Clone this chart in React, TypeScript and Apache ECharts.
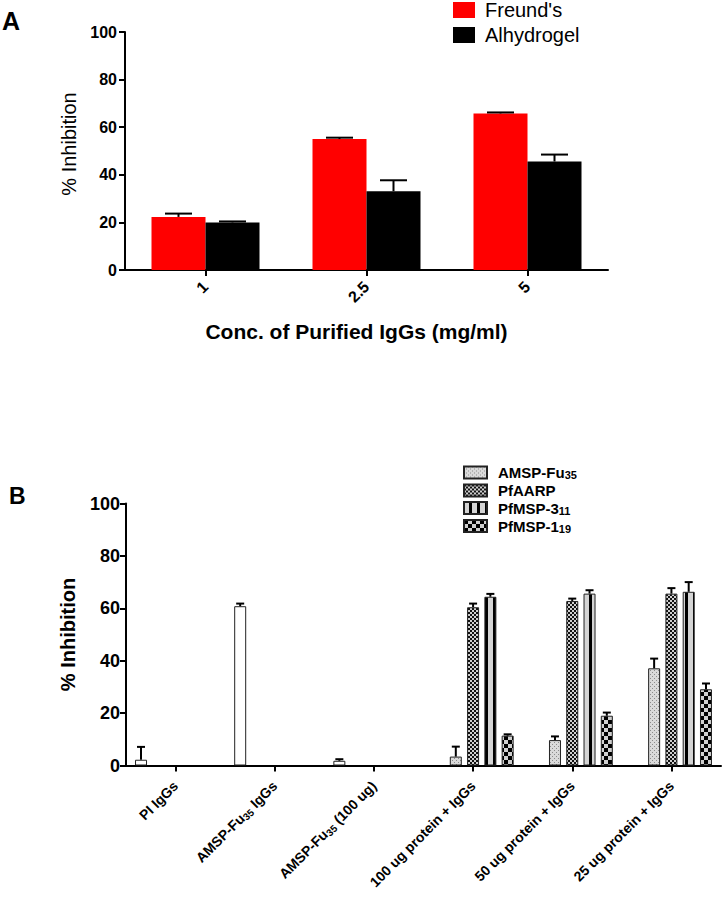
import React, { useEffect, useRef } from 'react';
import * as echarts from 'echarts';

// ---------- Panel A data ----------
const catsA = ['1', '2.5', '5'];
const freund = [22.3, 55.0, 65.8];
const freundErr = [1.4, 0.6, 0.4];
const alhydrogel = [20.0, 33.1, 45.6];
const alhydrogelErr = [0.4, 4.6, 2.9];

// ---------- Panel B data ----------
const catsB = [
  'PI IgGs',
  'AMSP-Fu35 IgGs',
  'AMSP-Fu35 (100 ug)',
  '100 ug protein + IgGs',
  '50 ug protein + IgGs',
  '25 ug protein + IgGs',
];
const controlB = [2.2, 60.8, 1.8, null, null, null];
const controlErr = [4.9, 1.0, 0.6, null, null, null];
const amspB = [null, null, null, 3.4, 9.7, 37.1];
const amspErr = [null, null, null, 3.8, 1.4, 3.7];
const aarpB = [null, null, null, 60.4, 62.8, 65.6];
const aarpErr = [null, null, null, 1.4, 0.9, 2.1];
const msp3B = [null, null, null, 64.4, 65.6, 66.3];
const msp3Err = [null, null, null, 1.1, 1.3, 3.7];
const msp1B = [null, null, null, 11.4, 19.0, 29.1];
const msp1Err = [null, null, null, 0.5, 1.2, 2.2];
const legendB = ['AMSP-Fu35', 'PfAARP', 'PfMSP-311', 'PfMSP-119'];

const FONT = '"Liberation Sans", Arial, sans-serif';

function makePattern(w: number, h: number, draw: (ctx: CanvasRenderingContext2D) => void) {
  const c = document.createElement('canvas');
  c.width = w;
  c.height = h;
  const ctx = c.getContext('2d')!;
  draw(ctx);
  return { image: c.toDataURL(), repeat: 'repeat', imageWidth: w, imageHeight: h } as any;
}

function toRich(s: string, t = 't', sub = 's') {
  const m = s.match(/^(.*?(?:Fu|MSP-\d))(\d\d)(.*)$/);
  if (!m) return `{${t}|${s}}`;
  let out = `{${t}|${m[1]}}{${sub}|${m[2]}}`;
  if (m[3]) out += `{${t}|${m[3]}}`;
  return out;
}

function errData(vals: (number | null)[], errs: (number | null)[]) {
  const out: number[][] = [];
  vals.forEach((v, i) => {
    if (v != null && errs[i] != null) out.push([i, v, errs[i] as number]);
  });
  return out;
}

function errRender(offset: number, cap: number) {
  return (_p: any, api: any) => {
    const x = api.value(0);
    const v = api.value(1);
    const e = api.value(2);
    const base = api.coord([x, v]);
    const top = api.coord([x, v + e]);
    const cx = base[0] + offset;
    return {
      type: 'group',
      children: [
        { type: 'line', shape: { x1: cx, y1: base[1], x2: cx, y2: top[1] }, style: { stroke: '#000', lineWidth: 2 } },
        { type: 'line', shape: { x1: cx - cap / 2, y1: top[1], x2: cx + cap / 2, y2: top[1] }, style: { stroke: '#000', lineWidth: 2 } },
      ],
    };
  };
}

export default function App() {
  const ref = useRef<HTMLDivElement>(null);
  useEffect(() => {
    if (!ref.current) return;
    const chart = echarts.init(ref.current, undefined, { renderer: 'svg' });

    const dotPat = makePattern(4, 4, (ctx) => {
      ctx.fillStyle = '#dadada';
      ctx.fillRect(0, 0, 4, 4);
      ctx.fillStyle = '#8c8c8c';
      ctx.fillRect(0, 0, 1, 1);
      ctx.fillRect(2, 2, 1, 1);
    });
    const fineCheck = makePattern(4, 4, (ctx) => {
      ctx.fillStyle = '#d0d0d0';
      ctx.fillRect(0, 0, 4, 4);
      ctx.fillStyle = '#111';
      ctx.fillRect(0, 0, 2, 2);
      ctx.fillRect(2, 2, 2, 2);
    });
    const stripes = makePattern(8, 4, (ctx) => {
      ctx.fillStyle = '#d4d4d4';
      ctx.fillRect(0, 0, 8, 4);
      ctx.fillStyle = '#000';
      ctx.fillRect(5, 0, 3, 4);
    });
    const bigCheck = makePattern(8, 8, (ctx) => {
      ctx.fillStyle = '#cfcfcf';
      ctx.fillRect(0, 0, 8, 8);
      ctx.fillStyle = '#000';
      ctx.fillRect(0, 0, 4, 4);
      ctx.fillRect(4, 4, 4, 4);
    });

    const axisLine = { show: true, lineStyle: { color: '#000', width: 2 } };
    const axisTick = { show: true, lineStyle: { color: '#000', width: 2 }, length: 6, inside: false };

    const bw = 12;
    const gapRatio = 0.44;
    const step = bw * (1 + gapRatio);
    const total = 5 * bw + 4 * bw * gapRatio;
    const offB = (i: number) => -total / 2 + bw / 2 + i * step;

    const barB = (name: string, data: any[], color: any) => ({
      type: 'bar',
      name,
      xAxisIndex: 1,
      yAxisIndex: 1,
      data: data.map((d) => (d == null ? '-' : d)),
      barWidth: bw,
      barGap: gapRatio * 100 + '%',
      itemStyle: { color, borderColor: '#222', borderWidth: 1 },
      z: 2,
    });
    const errB = (vals: any[], errs: any[], idx: number) => ({
      type: 'custom',
      xAxisIndex: 1,
      yAxisIndex: 1,
      renderItem: errRender(offB(idx), 8),
      data: errData(vals, errs),
      z: 3,
    });

    const richB = {
      t: { fontSize: 15, fontWeight: 'bold', lineHeight: 16, color: '#000', fontFamily: FONT },
      s: { fontSize: 11, fontWeight: 'bold', lineHeight: 11, verticalAlign: 'bottom', color: '#000', fontFamily: FONT },
    };
    const richX = {
      t: { fontSize: 14, fontWeight: 'bold', lineHeight: 17, color: '#000', fontFamily: FONT },
      s: { fontSize: 10, fontWeight: 'bold', lineHeight: 11, verticalAlign: 'bottom', color: '#000', fontFamily: FONT },
    };

    chart.setOption({
      animation: false,
      backgroundColor: '#fff',
      textStyle: { fontFamily: FONT, color: '#000' },
      graphic: [
        { type: 'text', left: 2, top: 8, style: { text: 'A', font: `bold 25px ${FONT}`, fill: '#000' } },
        { type: 'text', left: 9, top: 484, style: { text: 'B', font: `bold 23px ${FONT}`, fill: '#000' } },
      ],
      legend: [
        {
          orient: 'vertical',
          left: 453,
          top: 0,
          padding: 0,
          itemWidth: 22,
          itemHeight: 16,
          itemGap: 5,
          icon: 'rect',
          data: ['Freund\'s', 'Alhydrogel'],
          textStyle: { fontSize: 20, lineHeight: 20, color: '#000', padding: [0, 0, 0, 5], fontFamily: FONT },
        },
        {
          orient: 'vertical',
          left: 463,
          top: 465,
          padding: 0,
          itemWidth: 23,
          itemHeight: 12,
          itemGap: 2.5,
          icon: 'rect',
          data: legendB,
          formatter: (n: string) => toRich(n),
          textStyle: { color: '#000', padding: [0, 0, 0, 6], rich: richB },
        },
      ],
      grid: [
        { left: 125, top: 32, width: 483, height: 238 },
        { left: 126, top: 503.5, width: 595, height: 262 },
      ],
      xAxis: [
        {
          type: 'category',
          gridIndex: 0,
          data: catsA,
          axisLine,
          axisTick: { ...axisTick, alignWithLabel: true },
          splitLine: { show: false },
          axisLabel: { rotate: 45, margin: 14, fontSize: 16, fontWeight: 'bold', color: '#000', fontFamily: FONT },
          name: 'Conc. of Purified IgGs (mg/ml)',
          nameLocation: 'middle',
          nameGap: 51,
          nameTextStyle: { fontSize: 21, fontWeight: 'bold', color: '#000', fontFamily: FONT, padding: [0, 20, 0, 0] },
        },
        {
          type: 'category',
          gridIndex: 1,
          data: catsB,
          axisLine,
          axisTick: { ...axisTick, alignWithLabel: true },
          splitLine: { show: false },
          axisLabel: {
            rotate: 45,
            margin: 18,
            interval: 0,
            formatter: (v: string) => toRich(v),
            rich: richX,
          },
        },
      ],
      yAxis: [
        {
          type: 'value',
          gridIndex: 0,
          min: 0,
          max: 100,
          interval: 20,
          axisLine,
          axisTick,
          splitLine: { show: false },
          axisLabel: { margin: 8, fontSize: 16, fontWeight: 'bold', color: '#000', fontFamily: FONT },
          name: '% Inhibition',
          nameLocation: 'middle',
          nameGap: 43,
          nameTextStyle: { fontSize: 20, color: '#000', fontFamily: FONT, padding: [0, 0, 0, 14] },
        },
        {
          type: 'value',
          gridIndex: 1,
          min: 0,
          max: 100,
          interval: 20,
          axisLine,
          axisTick,
          splitLine: { show: false },
          axisLabel: { margin: 6, fontSize: 18, fontWeight: 'bold', color: '#000', fontFamily: FONT },
          name: '% Inhibition',
          nameLocation: 'middle',
          nameGap: 48,
          nameTextStyle: { fontSize: 20, fontWeight: 'bold', color: '#000', fontFamily: FONT },
        },
      ],
      series: [
        {
          type: 'bar',
          name: 'Freund\'s',
          data: freund,
          barWidth: 54,
          barGap: '0%',
          itemStyle: { color: '#ff0000' },
        },
        {
          type: 'bar',
          name: 'Alhydrogel',
          data: alhydrogel,
          barWidth: 54,
          barGap: '0%',
          itemStyle: { color: '#000000' },
        },
        { type: 'custom', renderItem: errRender(-27, 27), data: errData(freund, freundErr), z: 3 },
        { type: 'custom', renderItem: errRender(27, 27), data: errData(alhydrogel, alhydrogelErr), z: 3 },

        barB('Control', controlB, '#ffffff'),
        barB('AMSP-Fu35', amspB, dotPat),
        barB('PfAARP', aarpB, fineCheck),
        barB('PfMSP-311', msp3B, stripes),
        barB('PfMSP-119', msp1B, bigCheck),
        errB(controlB, controlErr, 0),
        errB(amspB, amspErr, 1),
        errB(aarpB, aarpErr, 2),
        errB(msp3B, msp3Err, 3),
        errB(msp1B, msp1Err, 4),
      ],
    });
    return () => chart.dispose();
  }, []);
  return (
    <div
      ref={ref}
      style={{ position: 'fixed', left: 0, top: 0, width: 723, height: 899, background: '#fff' }}
    />
  );
}
